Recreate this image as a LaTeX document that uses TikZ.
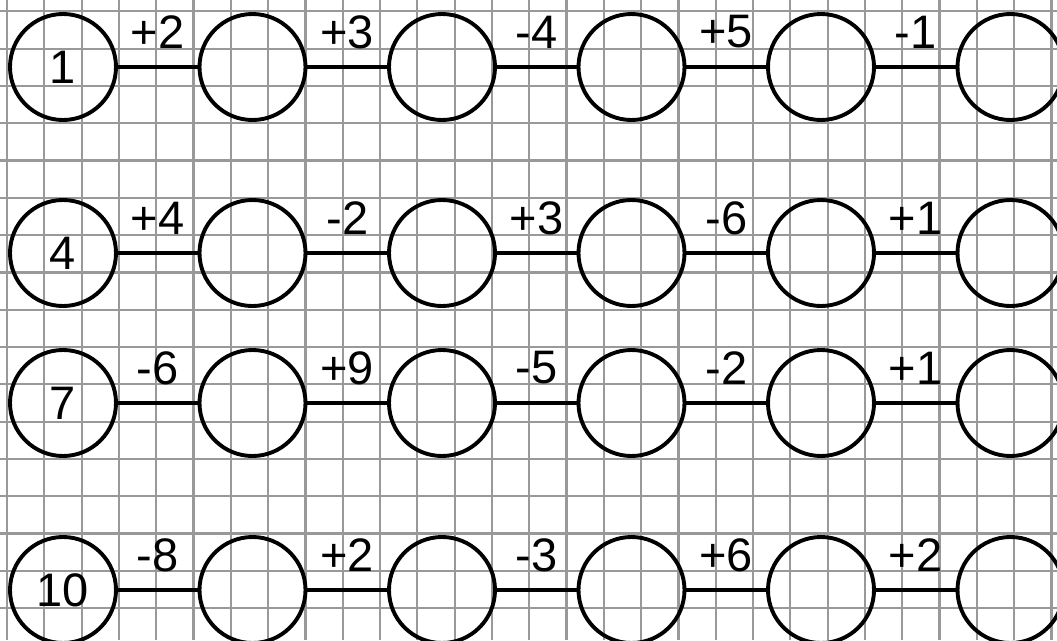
\documentclass[tikz,border=0pt]{standalone}
\usepackage{fontspec}
\setmainfont{Liberation Sans}
\usetikzlibrary{positioning}
\definecolor{gridgray}{gray}{0.6}

\begin{document}
\begin{tikzpicture}[x=1pt,y=-1pt,
  ring/.style={circle,draw,line width=3.9pt,minimum size=106pt,inner sep=0pt,font=\fontsize{47}{47}\selectfont},
  link/.style={line width=3.6pt},
  change/.style={font=\fontsize{47}{47}\selectfont,inner sep=0pt,yshift=35pt},
  gridline/.style={gridgray,line width=2.2pt}]
\useasboundingbox (0,0) rectangle (1057,640);
\clip (0,0) rectangle (1057,640);
\fill[white] (0,0) rectangle (1057,640);
\foreach \i in {0,...,28} \draw[gridline] (7+37.3*\i,0) -- (7+37.3*\i,640);
\foreach \j in {0,...,16} \draw[gridline] (0,11.3+37.3*\j) -- (1057,11.3+37.3*\j);
\foreach \r/\y/\first/\ops in {1/67/1/{+2,+3,-4,+5,-1},2/253/4/{+4,-2,+3,-6,+1},3/403/7/{-6,+9,-5,-2,+1},4/590/10/{-8,+2,-3,+6,+2}} {
  \node[ring] (r\r-0) at (63,\y) {\first};
  \foreach \o [count=\k] in \ops {
    \pgfmathtruncatemacro\p{\k-1}
    \node[ring] (r\r-\k) at (63+189.5*\k,\y) {};
    \draw[link] (r\r-\p) -- (r\r-\k) node[change,midway] {\o};
  }
}
\end{tikzpicture}
\end{document}
